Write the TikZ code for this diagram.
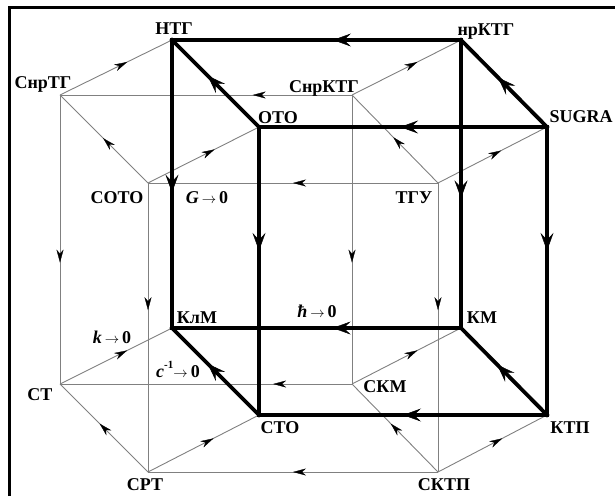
\documentclass[tikz,border=0pt]{standalone}
\usepackage{fontspec}
\setmainfont{Liberation Serif}
\usetikzlibrary{arrows.meta,decorations.markings}
\tikzset{
  thinedge/.style={draw=black!50, line width=0.9pt, postaction={decorate},
    decoration={markings, mark=at position #1 with {\arrow{Stealth[length=13pt,width=7pt,inset=4pt,line width=0.3pt,color=black]}}}},
  thickedge/.style={draw=black, line width=3.8pt, line cap=rect, postaction={decorate},
    decoration={markings, mark=at position #1 with {\arrow{Stealth[length=18pt,width=13pt,inset=7pt,line width=0.5pt]}}}},
  lbl/.style={anchor=base, inner sep=0pt, font=\fontsize{18}{20}\selectfont\bfseries},
  frameln/.style={draw=black, line width=3pt}
}
\newcommand{\smarr}{\,{\fontsize{14}{14}\selectfont$\rightarrow$}\,}
\begin{document}
\begin{tikzpicture}[x=1pt,y=-1pt]
\useasboundingbox (0,0) rectangle (615,496);
% frame
\coordinate (fbl) at (9.5,496);
\coordinate (ftl) at (9.5,7.5);
\coordinate (ftr) at (615,7.5);
\draw[frameln] (fbl) -- (ftl) -- (ftr);
% outer (thick) cube corners
\coordinate (NTG) at (172,40);
\coordinate (nrKTG) at (461,40);
\coordinate (OTO) at (259,127);
\coordinate (SUGRA) at (547,127);
\coordinate (KlM) at (172,328);
\coordinate (KM) at (461,328);
\coordinate (STO) at (259,415);
\coordinate (KTP) at (547,415);
% inner (thin) cube corners
\coordinate (SnrTG) at (60,95);
\coordinate (SnrKTG) at (352,95);
\coordinate (SOTO) at (148,183);
\coordinate (TGU) at (438,183);
\coordinate (ST) at (60,384);
\coordinate (SKM) at (352,384);
\coordinate (SRT) at (148,472);
\coordinate (SKTP) at (438,472);
% thin edges
\draw[thinedge=0.34] (SnrKTG) -- (SnrTG);
\draw[thinedge=0.5] (TGU) -- (SOTO);
\draw[thinedge=0.51] (SOTO) -- (SnrTG);
\draw[thinedge=0.52] (TGU) -- (SnrKTG);
\draw[thinedge=0.58] (SnrTG) -- (ST);
\draw[thinedge=0.58] (SnrKTG) -- (SKM);
\draw[thinedge=0.44] (SOTO) -- (SRT);
\draw[thinedge=0.44] (TGU) -- (SKTP);
\draw[thinedge=0.27] (SKM) -- (ST);
\draw[thinedge=0.5] (SKTP) -- (SRT);
\draw[thinedge=0.55] (SRT) -- (ST);
\draw[thinedge=0.55] (SKTP) -- (SKM);
% connecting edges
\draw[thinedge=0.6] (SnrTG) -- (NTG);
\draw[thinedge=0.6] (SOTO) -- (OTO);
\draw[thinedge=0.6] (SnrKTG) -- (nrKTG);
\draw[thinedge=0.58] (TGU) -- (SUGRA);
\draw[thinedge=0.6] (ST) -- (KlM);
\draw[thinedge=0.59] (SRT) -- (STO);
\draw[thinedge=0.6] (SKM) -- (KM);
\draw[thinedge=0.59] (SKTP) -- (KTP);
% thick edges
\draw[thickedge=0.443] (nrKTG) -- (NTG);
\draw[thickedge=0.51] (SUGRA) -- (OTO);
\draw[thickedge=0.57] (SUGRA) -- (nrKTG);
\draw[thickedge=0.59] (OTO) -- (NTG);
\draw[thickedge=0.53] (NTG) -- (KlM);
\draw[thickedge=0.55] (nrKTG) -- (KM);
\draw[thickedge=0.43] (OTO) -- (STO);
\draw[thickedge=0.43] (SUGRA) -- (KTP);
\draw[thickedge=0.444] (KM) -- (KlM);
\draw[thickedge=0.50] (KTP) -- (STO);
\draw[thickedge=0.58] (KTP) -- (KM);
\draw[thickedge=0.59] (STO) -- (KlM);
% labels
\node[lbl] (lNTG) at (174,34) {НТГ};
\node[lbl] (lSnrTG) at (43,88) {СнрТГ};
\node[lbl] (lOTO) at (278,123) {ОТО};
\node[lbl] (lSOTO) at (117,203) {СОТО};
\node[lbl] (lG) at (207,203) {\textit{G}\smarr0};
\node[lbl] (lnrKTG) at (486,35) {нрКТГ};
\node[lbl] (lSnrKTG) at (324,92) {СнрКТГ};
\node[lbl] (lSUGRA) at (581,122) {SUGRA};
\node[lbl] (lTGU) at (414,203) {ТГУ};
\node[lbl] (lKlM) at (197,323) {КлМ};
\node[lbl] (lk) at (112,343) {\textit{k}\smarr0};
\node[lbl] (lc) at (178,377) {\textit{c}\raisebox{0.45em}{\fontsize{11}{11}\selectfont -1}{\fontsize{14}{14}\selectfont$\rightarrow$}\,0};
\node[lbl] (lST) at (40,400) {СТ};
\node[lbl] (lSTO) at (280,433) {СТО};
\node[lbl] (lSRT) at (145,490) {СРТ};
\node[lbl] (lh) at (317,317) {\textit{ħ}\smarr0};
\node[lbl] (lKM) at (482,323) {КМ};
\node[lbl] (lSKM) at (385,392) {СКМ};
\node[lbl] (lKTP) at (570,433) {КТП};
\node[lbl] (lSKTP) at (444,490) {СКТП};
\end{tikzpicture}
\end{document}
